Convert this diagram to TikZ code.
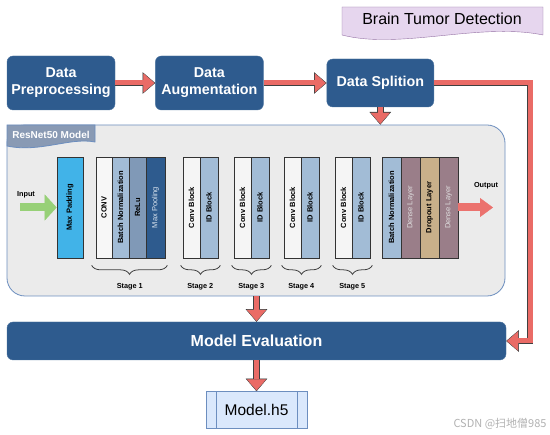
\documentclass[tikz,border=0pt]{standalone}
\usepackage{fontspec}
\setmainfont{Liberation Sans}
\newfontfamily\cjkfont{Noto Sans CJK SC}
\usepackage{tikz}
\usetikzlibrary{positioning, calc, arrows.meta, decorations.pathreplacing}

\definecolor{stepblue}{RGB}{46,91,142}
\definecolor{arrowred}{RGB}{234,107,102}
\definecolor{panelgray}{RGB}{235,235,235}
\definecolor{panelline}{RGB}{108,142,191}
\definecolor{tabblue}{RGB}{137,154,180}
\definecolor{normblue}{RGB}{162,188,214}
\definecolor{relublue}{RGB}{128,153,183}
\definecolor{padblue}{RGB}{65,179,232}
\definecolor{densemauve}{RGB}{154,126,137}
\definecolor{droptan}{RGB}{200,176,138}
\definecolor{inputgreen}{RGB}{151,208,119}
\definecolor{titlefill}{RGB}{230,214,238}
\definecolor{titleline}{RGB}{150,115,166}
\definecolor{h5fill}{RGB}{218,232,252}

\begin{document}
\begin{tikzpicture}[x=1pt, y=-1pt, every node/.style={align=center, inner sep=0pt},
  stepbox/.style={fill=stepblue, draw=stepblue!85!white, rounded corners=6pt, text=white, font=\bfseries\fontsize{14.3}{17}\selectfont},
  layer/.style={draw=black!80, line width=0.7pt, rotate=90, minimum width=101pt, minimum height=#1, font=\bfseries\fontsize{7.5}{8}\selectfont},
  lighttext/.style={font=\fontsize{7.5}{8}\selectfont},
  smalltext/.style={font=\bfseries\fontsize{7.3}{8}\selectfont},
  fatarrow/.style={draw=arrowred, line width=5pt, line join=miter, -{Triangle[length=11pt, width=19pt, line width=0.4pt 0 1]}, shorten >=0.8pt,
    preaction={draw=black!75, line width=6.6pt, line join=miter, -{Triangle[length=12.6pt, width=21.5pt, line width=0.4pt 0 1]}, shorten >=0pt}},
  inarrow/.style={draw=inputgreen, line width=8pt, -{Triangle[length=12pt, width=26pt, line width=0.4pt 0 1]}},
  outarrow/.style={draw=arrowred!95!white, line width=8pt, -{Triangle[length=13pt, width=19pt, line width=0.4pt 0 1]}},
  stagebrace/.style={draw=black!75, line width=0.8pt, decorate, decoration={brace, mirror, amplitude=9pt}}]

\path[use as bounding box, fill=white] (0,0) rectangle (550,435);

% Title
\draw[fill=titlefill, draw=titleline] (342,7) -- (543,7) -- (543,35) .. controls (480,22) and (400,50) .. (342,35) -- cycle;
\node (title) at (442,19) [font=\fontsize{16}{18}\selectfont] {Brain Tumor Detection};

% Nodes (top row)
\node (prep) [stepbox, minimum width=108pt, minimum height=54pt] at (61,83) {Data\\Preprocessing};
\node (aug) [stepbox, minimum width=108pt, minimum height=54pt, right=40pt of prep] {Data\\Augmentation};
\node (split) [stepbox, minimum width=107pt, minimum height=48pt, right=63pt of aug] {Data Splition};

% ResNet50 panel
\node (panel) [draw=panelline, fill=panelgray, line width=0.8pt, rounded corners=18pt, minimum width=498pt, minimum height=171pt] at (256,210.5) {};
\draw[fill=tabblue, draw=panelline, line width=0.8pt] (7,125) -- (95,125) -- (95,142) .. controls (70,137) and (40,153) .. (7,146) -- cycle;
\node (tabname) at (51,135) [text=white, font=\bfseries\fontsize{10}{12}\selectfont] {ResNet50 Model};

\node (inlabel) [smalltext] at (26,195) {Input};
\coordinate (instart) at (20,207.5);
\node (maxpad) [layer=26pt, fill=padblue] at (70,207.5) {Max Padding};

% Stage 1
\node (conv1) [layer=16pt, fill=white!97!black] at (104,207.5) {CONV};
\node (bn1) [layer=17pt, fill=normblue] at (120.5,207.5) {Batch Normalization};
\node (relu1) [layer=17pt, fill=relublue] at (137.5,207.5) {ReLu};
\node (pool1) [layer=19pt, fill=stepblue, lighttext, text=normblue!40!white] at (155.5,207.5) {Max Pooling};
\draw[stagebrace] ($(conv1.north west)+(-4,7)$) -- ($(pool1.south west)+(2,7)$);
\node (stage1) [smalltext] at ($(conv1)!0.5!(pool1)+(0,79)$) {Stage 1};

% Stages 2-5
\foreach \i/\x in {2/191.5, 3/242.5, 4/292.5, 5/343.5} {
  \node (cb\i) [layer=17pt, fill=white!96!black] at (\x,207.5) {Conv Block};
  \node (id\i) [layer=18pt, fill=normblue] at (\x+17.5,207.5) {ID Block};
  \draw[stagebrace] ($(cb\i.north west)+(-2,7)$) -- ($(id\i.south west)+(2,7)$);
  \node (stage\i) [smalltext] at ($(cb\i)!0.5!(id\i)+(0,79)$) {Stage \i};
}

% Head
\node (bnout) [layer=19pt, fill=normblue] at (391.5,207.5) {Batch Normalization};
\node (dense1) [layer=19pt, fill=densemauve, lighttext, text=white!88!black] at (410.5,207.5) {Dense Layer};
\node (drop) [layer=19pt, fill=droptan] at (429.5,207.5) {Dropout Layer};
\node (dense2) [layer=19pt, fill=densemauve, lighttext, text=white!88!black] at (448.5,207.5) {Dense Layer};
\node (outlabel) [smalltext] at (486,186) {Output};
\coordinate (outend) at (493,207.5);

% Bottom row
\node (eval) [stepbox, minimum width=499pt, minimum height=38pt, font=\bfseries\fontsize{16}{18}\selectfont] at (256.5,341) {Model Evaluation};
\node (h5) [draw=panelline, fill=h5fill, minimum width=101pt, minimum height=37pt, below=31pt of eval, font=\fontsize{15.5}{18}\selectfont] {Model.h5};
\draw[panelline] ([xshift=10pt]h5.north west) -- ([xshift=10pt]h5.south west);
\draw[panelline] ([xshift=-10pt]h5.north east) -- ([xshift=-10pt]h5.south east);

\node (watermark) at (500,424) [text=black!30, font=\cjkfont\fontsize{11}{12}\selectfont] {CSDN @扫地僧985};

% Arrows
\draw[inarrow] (instart) -- (maxpad);
\draw[outarrow] (dense2) -- (outend);
\draw[fatarrow] (prep) -- (aug);
\draw[fatarrow] (aug.east) -- (aug.east -| split.west);
\draw[fatarrow] (split.south) -- (split.south |- panel.north);
\coordinate (bendright) at (530,341);
\draw[fatarrow] (split.east) -| (bendright) -- (eval.east);
\draw[fatarrow] (eval.north |- panel.south) -- (eval.north);
\draw[fatarrow] (eval.south) -- (h5.north);

\end{tikzpicture}
\end{document}
